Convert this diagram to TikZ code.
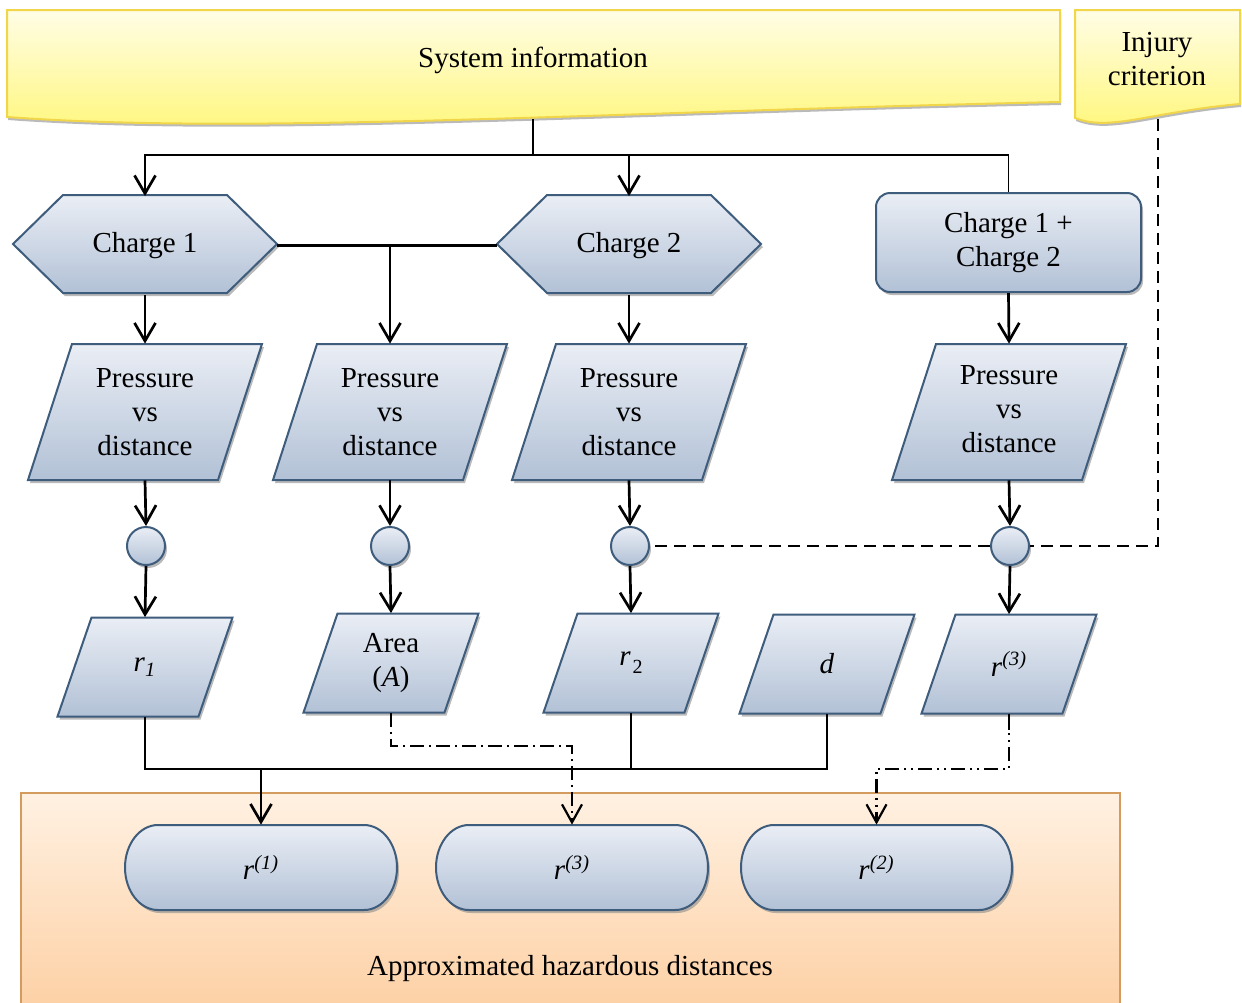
\documentclass[tikz,border=0pt]{standalone}
\usepackage{fontspec}
\setmainfont{Liberation Serif}
\usetikzlibrary{arrows.meta,shadows,calc}
\definecolor{bTop}{HTML}{EAEEF5}
\definecolor{bBot}{HTML}{B2C1D6}
\definecolor{bDraw}{HTML}{3E5C7C}
\definecolor{yTop}{HTML}{FFFDE6}
\definecolor{yBot}{HTML}{FFF77A}
\definecolor{yDraw}{HTML}{F2D649}
\definecolor{oTop}{HTML}{FFF1E2}
\definecolor{oBot}{HTML}{FDD0A4}
\definecolor{oDraw}{HTML}{D39B5E}
\newcommand\parabox[7]{%
  \draw[bshape] (#2-#4/2+#6/2,#3-#5/2) -- (#2+#4/2+#6/2,#3-#5/2) -- (#2+#4/2-#6/2,#3+#5/2) -- (#2-#4/2-#6/2,#3+#5/2) -- cycle;
  \node[txt, minimum width=#4*0.5pt, minimum height=#5*0.5pt] (#1) at (#2,#3) {#7};}
\newcommand\hexbox[3]{%
  \draw[bshape] (#2-132,244) -- (#2-82,195) -- (#2+82,195) -- (#2+132,244) -- (#2+82,293) -- (#2-82,293) -- cycle;
  \node[txt, minimum width=132pt, minimum height=49pt] (#1) at (#2,245.5) {#3};}
\newcommand\termbox[4]{%
  \draw[bshape] (#2+33,825) -- (#3-33,825) .. controls (#3-14.8,825) and (#3,844) .. (#3,867.5) .. controls (#3,891) and (#3-14.8,910) .. (#3-33,910) -- (#2+33,910) .. controls (#2+14.8,910) and (#2,891) .. (#2,867.5) .. controls (#2,844) and (#2+14.8,825) .. (#2+33,825) -- cycle;
  \node[txt, minimum height=42.5pt] (#1) at ({(#2+#3)/2},867.5) {#4};}
\begin{document}
\begin{tikzpicture}[x=0.5pt,y=-0.5pt,
  font=\fontsize{14.5}{17}\selectfont,
  bshape/.style={draw=bDraw, line width=1pt, top color=bTop, bottom color=bBot,
    drop shadow={shadow xshift=1pt, shadow yshift=-1.5pt, fill=black!45, opacity=.6}},
  yshape/.style={draw=yDraw, line width=1pt, top color=yTop, bottom color=yBot,
    drop shadow={shadow xshift=0.5pt, shadow yshift=-1.5pt, fill=black!45, opacity=.6}},
  txt/.style={inner sep=0pt, align=center},
  bcirc/.style={bshape, circle, minimum size=19pt, inner sep=0pt},
  link/.style={line width=1.35pt},
  thin/.style={line width=0.8pt},
  arr/.style={link, -{Straight Barb[length=9pt,width=10.5pt]}},
  dashline/.style={line width=1pt, dash pattern=on 6pt off 3.5pt},
  dashdot/.style={line width=1.1pt, dash pattern=on 7pt off 2.5pt on 1pt off 2.5pt, -{Straight Barb[length=9pt,width=10pt]}},
  dashdotdot/.style={line width=1.1pt, dash pattern=on 7pt off 2.5pt on 1pt off 2.5pt on 1pt off 2.5pt, -{Straight Barb[length=9pt,width=10pt]}}
]
\useasboundingbox (0,0) rectangle (1242,1002);

% container
\draw[draw=oDraw, line width=1pt, top color=oTop, bottom color=oBot] (21,793) rectangle (1120,1010);
\node[txt] (AHD) at (570,969) {Approximated hazardous distances};

% documents
\draw[yshape] (7,10) -- (1060,10) -- (1060,102) .. controls (600,112) and (250,135) .. (7,117) -- cycle;
\node[txt] (SI) at (533,60) {System information};
\coordinate (SIb) at (533,119);
\draw[yshape] (1075,10) -- (1240,10) -- (1240,104) .. controls (1150,112) and (1110,132) .. (1075,118) -- cycle;
\node[txt] (IC) at (1157,59) {Injury\\criterion};
\coordinate (ICb) at (1158,119);

% charges
\hexbox{ch1}{145}{Charge 1}
\hexbox{ch2}{629}{Charge 2}
\node[bshape, rounded corners=7pt, minimum width=132.5pt, minimum height=49.5pt, align=center, inner sep=0pt] (ch12) at (1008.5,242.5) {Charge 1 +\\Charge 2};

% pressure
\parabox{P1}{145}{412}{190}{136}{44}{Pressure\\vs\\distance}
\parabox{P2}{390}{412}{190}{136}{44}{Pressure\\vs\\distance}
\parabox{P3}{629}{412}{190}{136}{44}{Pressure\\vs\\distance}
\parabox{P4}{1009}{412}{190}{136}{44}{\raisebox{3.5pt}{\begin{tabular}{@{}c@{}}Pressure\\vs\\distance\end{tabular}}}

% circles
\node[bcirc] (c1) at (146,546) {};
\node[bcirc] (c2) at (390,546) {};
\node[bcirc] (c3) at (630,546) {};
\node[bcirc] (c4) at (1010,546) {};

% row 3
\parabox{R1}{145}{667}{141}{99}{34}{\textit{r}\textsubscript{\textit{1}}}
\parabox{RA}{391}{663}{141}{99}{34}{Area\\(\textit{A})}
\parabox{R2}{631}{663}{141}{99}{34}{\textit{r}\kern1pt\raisebox{-4pt}{\fontsize{10}{10}\selectfont 2}}
\parabox{RD}{827}{664}{141}{99}{34}{\textit{d}}
\parabox{R3}{1009}{664}{141}{99}{34}{\textit{r}\textsuperscript{\textit{(3)}}}

% terminals
\termbox{T1}{125}{397}{\textit{r}\textsuperscript{\textit{(1)}}}
\termbox{T3}{436}{708}{\textit{r}\textsuperscript{\textit{(3)}}}
\termbox{T2}{741}{1012}{\textit{r}\textsuperscript{\textit{(2)}}}

% connectors
\coordinate (sj) at (533,155);
\draw[link] (SIb) -- (sj);
\draw[arr] (sj) -| (ch1.north);
\draw[arr] (sj) -| (ch2.north);
\draw[thin] (sj) -| (ch12.north);
\draw[link] (ch1.east) -- (ch2.west);
\draw[arr] (ch1.east -| P2.north) -- (P2.north);
\draw[arr] (ch1.south) -- (P1.north);
\draw[arr] (ch2.south) -- (P3.north);
\draw[arr] (ch12.south) -- (P4.north);
\foreach \p/\c in {P1/c1,P2/c2,P3/c3,P4/c4}{\draw[arr] (\p.south) -- (\c.north);}
\draw[arr] (c1.south) -- (R1.north);
\draw[arr] (c2.south) -- (RA.north);
\draw[arr] (c3.south) -- (R2.north);
\draw[arr] (c4.south) -- (R3.north);
\draw[dashline] (ICb) |- (c4.east);
\draw[dashline] (c4.west) -- (c3.east);

\coordinate (bus) at (261,769);
\draw[line width=1pt] (R1.south) |- (bus);
\draw[link] (R2.south) |- (bus);
\draw[thin] (RD.south) |- (R2.south |- bus);
\draw[arr] (bus) -- (T1.north);
\draw[link] (RA.south) -- ++(0,14);
\draw[dashdot] (RA.south) -- ++(0,33) -| (T3.north);
\draw[link] (R3.south) -- ++(0,16);
\draw[dashdotdot] (R3.south) -- ++(0,55) -| (T2.north);
\end{tikzpicture}
\end{document}
